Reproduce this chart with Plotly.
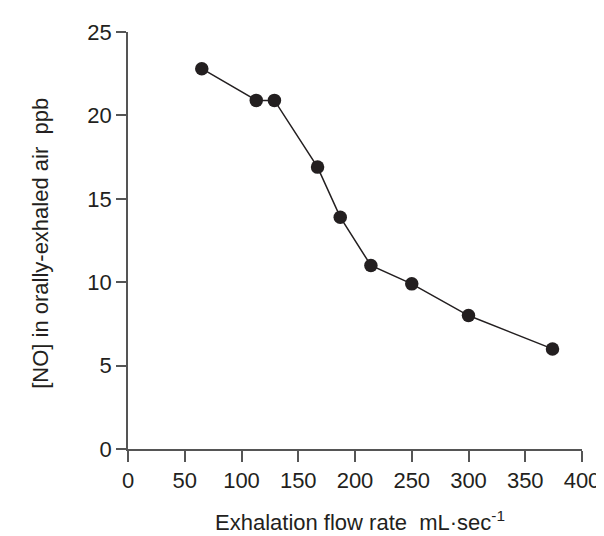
import plotly.graph_objects as go

flow_rate = [65, 113, 129, 167, 187, 214, 250, 300, 374]
no_ppb = [22.8, 20.9, 20.9, 16.9, 13.9, 11.0, 9.9, 8.0, 6.0]

x_ticks = [0, 50, 100, 150, 200, 250, 300, 350, 400]
y_ticks = [0, 5, 10, 15, 20, 25]

ink = "#231f20"
font = dict(family="Liberation Sans, Arial, sans-serif", size=22, color=ink)

fig = go.Figure()
fig.add_trace(go.Scatter(
    x=flow_rate, y=no_ppb, mode="lines+markers",
    line=dict(color=ink, width=1.5),
    marker=dict(color=ink, size=13.5),
    showlegend=False, cliponaxis=False,
))

axis_common = dict(
    showgrid=False, zeroline=False, showline=True, linecolor="#555555", linewidth=1.8,
    ticks="outside", tickcolor="#555555", tickwidth=1.5, tickfont=font,
)
fig.update_layout(
    width=604, height=536,
    margin=dict(l=120, r=19, t=16, b=95),
    paper_bgcolor="white", plot_bgcolor="white",
    font=font,
    xaxis=dict(range=[0, 400], tickvals=x_ticks, ticklen=11, **axis_common),
    yaxis=dict(range=[0, 25], tickvals=y_ticks, ticklen=10, **axis_common),
    annotations=[
        dict(text="Exhalation flow rate  mL·sec<sup>-1</sup>", xref="paper", yref="paper",
             x=0.51, y=0, xanchor="center", yanchor="bottom", yshift=-88,
             showarrow=False, font=font),
        dict(text="[NO] in orally-exhaled air  ppb", xref="paper", yref="paper",
             x=0, y=0.492, xanchor="center", yanchor="middle", xshift=-87,
             textangle=-90, showarrow=False, font=font),
    ],
)
fig.write_html("out.html")
